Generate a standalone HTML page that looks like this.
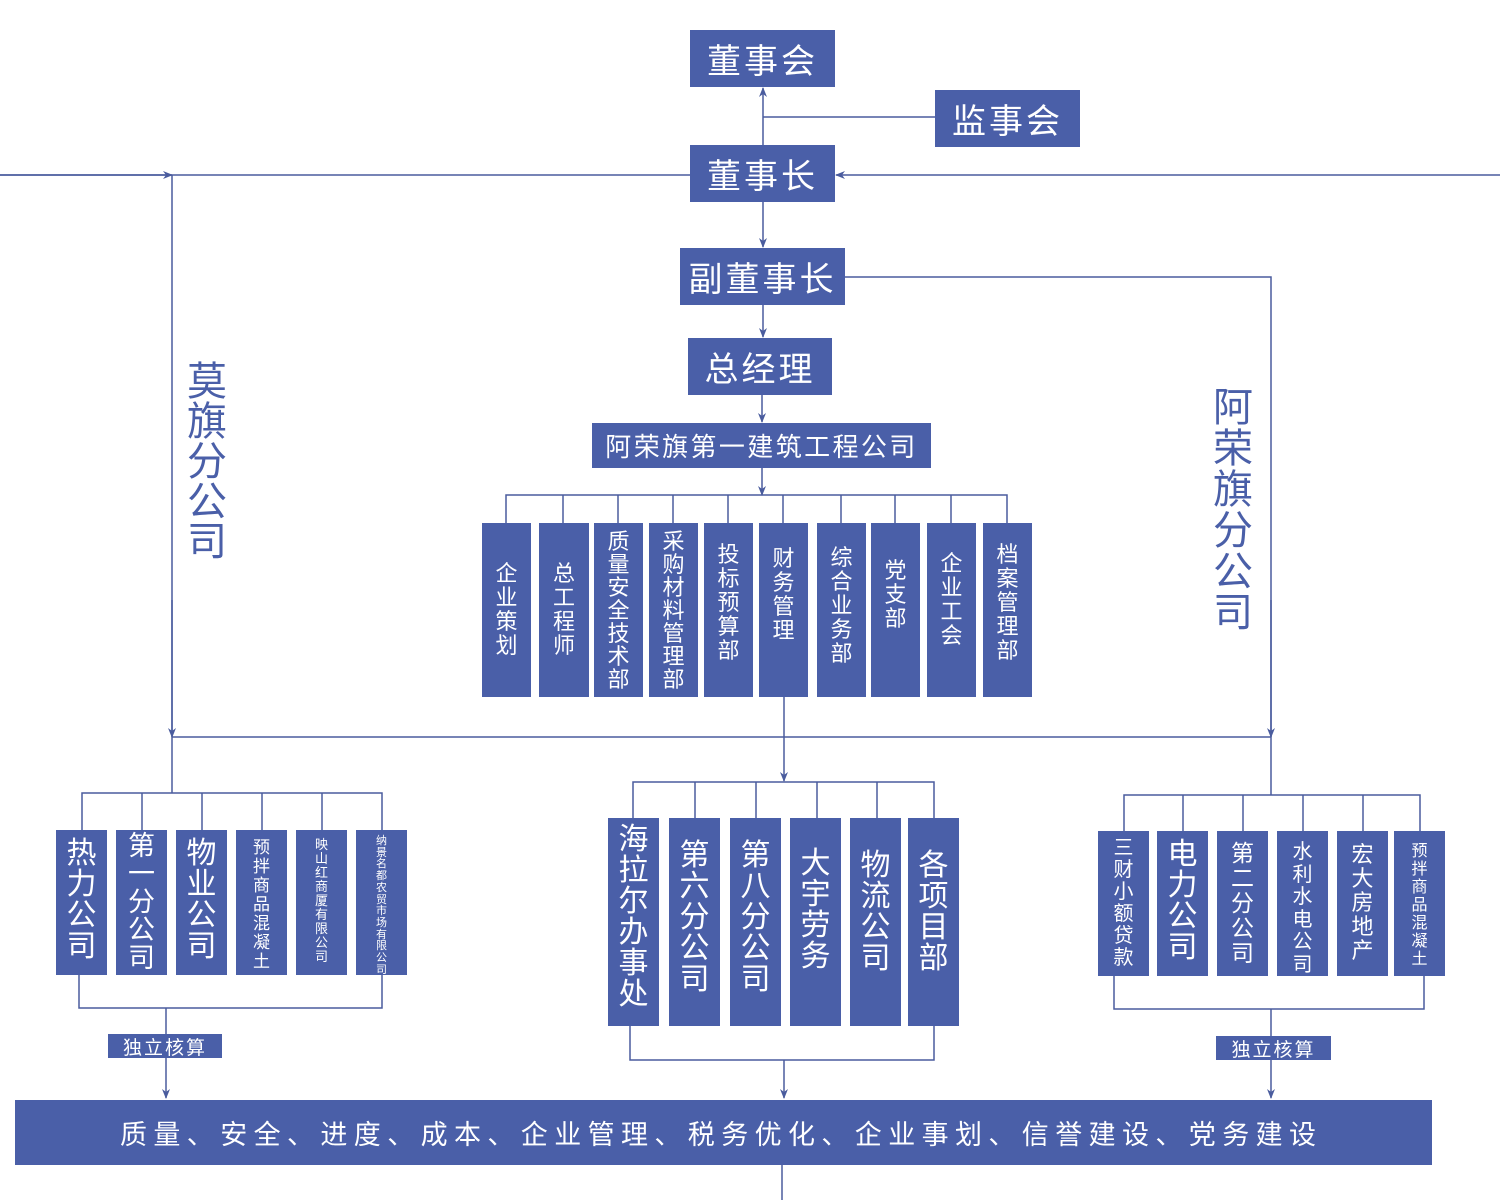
<!DOCTYPE html>
<html><head><meta charset="utf-8"><style>
body{margin:0;width:1500px;height:1200px;background:#fff;position:relative;overflow:hidden;font-family:"Liberation Sans","Noto Sans CJK SC",sans-serif}
.b{position:absolute;background:#4a5fa8;color:#fff;display:flex;align-items:center;justify-content:center;white-space:nowrap}
.v{position:absolute;background:#4a5fa8;color:#fff;display:flex;flex-direction:column;align-items:center;text-align:center}
.v span{display:block}
.t{position:absolute;color:#4a5fa8;display:flex;flex-direction:column;align-items:center}
svg{position:absolute;left:0;top:0}
</style></head><body>
<svg width="1500" height="1200" viewBox="0 0 1500 1200">
<defs><marker id="a" markerWidth="10" markerHeight="10" refX="9" refY="5" orient="auto" markerUnits="userSpaceOnUse"><path d="M0,1 L10,5 L0,9 L3,5 Z" fill="#4a5c9e"/></marker></defs>
<g stroke="#4a5c9e" stroke-width="1.5" fill="none">
<line x1="763" y1="145" x2="763" y2="88" marker-end="url(#a)"/>
<line x1="763" y1="117" x2="935" y2="117"/>
<line x1="0" y1="175" x2="690" y2="175"/>
<line x1="0" y1="175" x2="172" y2="175" marker-end="url(#a)"/>
<line x1="1500" y1="175" x2="836" y2="175" marker-end="url(#a)"/>
<line x1="763" y1="202" x2="763" y2="247" marker-end="url(#a)"/>
<line x1="763" y1="305" x2="763" y2="337" marker-end="url(#a)"/>
<line x1="762" y1="395" x2="762" y2="422" marker-end="url(#a)"/>
<line x1="762" y1="468" x2="762" y2="495" marker-end="url(#a)"/>
<polyline points="845,277 1271,277 1271,737"/>
<line x1="1271" y1="600" x2="1271" y2="737" marker-end="url(#a)"/>
<line x1="172" y1="175" x2="172" y2="737"/>
<line x1="172" y1="600" x2="172" y2="737" marker-end="url(#a)"/>
<polyline points="506,523 506,495 1007,495 1007,523"/>
<line x1="563" y1="495" x2="563" y2="523"/><line x1="618" y1="495" x2="618" y2="523"/>
<line x1="673" y1="495" x2="673" y2="523"/><line x1="728" y1="495" x2="728" y2="523"/>
<line x1="783" y1="495" x2="783" y2="523"/><line x1="841" y1="495" x2="841" y2="523"/>
<line x1="895" y1="495" x2="895" y2="523"/><line x1="951" y1="495" x2="951" y2="523"/>
<line x1="172" y1="737" x2="1271" y2="737"/>
<line x1="784" y1="697" x2="784" y2="781" marker-end="url(#a)"/>
<line x1="172" y1="737" x2="172" y2="793"/>
<polyline points="82,830 82,793 382,793 382,830"/>
<line x1="142" y1="793" x2="142" y2="830"/><line x1="202" y1="793" x2="202" y2="830"/>
<line x1="262" y1="793" x2="262" y2="830"/><line x1="322" y1="793" x2="322" y2="830"/>
<polyline points="79,975 79,1008 382,1008 382,975"/>
<line x1="166" y1="1008" x2="166" y2="1034"/>
<line x1="166" y1="1058" x2="166" y2="1098" marker-end="url(#a)"/>
<polyline points="633,818 633,782 934,782 934,818"/>
<line x1="695" y1="782" x2="695" y2="818"/><line x1="756" y1="782" x2="756" y2="818"/>
<line x1="817" y1="782" x2="817" y2="818"/><line x1="877" y1="782" x2="877" y2="818"/>
<polyline points="630,1026 630,1060 934,1060 934,1026"/>
<line x1="784" y1="1060" x2="784" y2="1098" marker-end="url(#a)"/>
<line x1="1271" y1="737" x2="1271" y2="795"/>
<polyline points="1124,831 1124,795 1420,795 1420,831"/>
<line x1="1183" y1="795" x2="1183" y2="831"/><line x1="1243" y1="795" x2="1243" y2="831"/>
<line x1="1303" y1="795" x2="1303" y2="831"/><line x1="1363" y1="795" x2="1363" y2="831"/>
<polyline points="1114,976 1114,1009 1424,1009 1424,976"/>
<line x1="1271" y1="1009" x2="1271" y2="1036"/>
<line x1="1271" y1="1060" x2="1271" y2="1098" marker-end="url(#a)"/>
<line x1="782" y1="1165" x2="782" y2="1200"/>
</g></svg>

<div class="b" style="left:690px;top:30px;width:145px;height:57px;font-size:34px;letter-spacing:3px">董事会</div>
<div class="b" style="left:935px;top:90px;width:145px;height:57px;font-size:34px;letter-spacing:3px">监事会</div>
<div class="b" style="left:690px;top:145px;width:145px;height:57px;font-size:34px;letter-spacing:3px">董事长</div>
<div class="b" style="left:680px;top:248px;width:165px;height:57px;font-size:34px;letter-spacing:3px">副董事长</div>
<div class="b" style="left:688px;top:338px;width:144px;height:57px;font-size:34px;letter-spacing:3px">总经理</div>
<div class="b" style="left:592px;top:423px;width:339px;height:45px;font-size:26px;letter-spacing:2.4px">阿荣旗第一建筑工程公司</div>

<div class="t" style="left:185px;top:362px;width:44px;font-size:40px;line-height:40px"><span>莫</span><span>旗</span><span>分</span><span>公</span><span>司</span></div>
<div class="t" style="left:1211px;top:388px;width:44px;font-size:40px;line-height:41px"><span>阿</span><span>荣</span><span>旗</span><span>分</span><span>公</span><span>司</span></div>

<!-- departments -->
<div class="v" style="left:482px;top:523px;width:49px;height:174px;font-size:22px;line-height:24px;justify-content:center"><span>企</span><span>业</span><span>策</span><span>划</span></div>
<div class="v" style="left:539px;top:523px;width:50px;height:174px;font-size:22px;line-height:24px;justify-content:center"><span>总</span><span>工</span><span>程</span><span>师</span></div>
<div class="v" style="left:594px;top:523px;width:49px;height:174px;font-size:22px;line-height:23px;justify-content:center"><span>质</span><span>量</span><span>安</span><span>全</span><span>技</span><span>术</span><span>部</span></div>
<div class="v" style="left:649px;top:523px;width:49px;height:174px;font-size:22px;line-height:23px;justify-content:center"><span>采</span><span>购</span><span>材</span><span>料</span><span>管</span><span>理</span><span>部</span></div>
<div class="v" style="left:704px;top:523px;width:49px;height:174px;font-size:22px;line-height:24px;justify-content:center;padding-bottom:14px;box-sizing:border-box"><span>投</span><span>标</span><span>预</span><span>算</span><span>部</span></div>
<div class="v" style="left:759px;top:523px;width:49px;height:174px;font-size:22px;line-height:24px;justify-content:center;padding-bottom:30px;box-sizing:border-box"><span>财</span><span>务</span><span>管</span><span>理</span></div>
<div class="v" style="left:817px;top:523px;width:49px;height:174px;font-size:22px;line-height:24px;justify-content:center;padding-bottom:8px;box-sizing:border-box"><span>综</span><span>合</span><span>业</span><span>务</span><span>部</span></div>
<div class="v" style="left:871px;top:523px;width:49px;height:174px;font-size:22px;line-height:24px;justify-content:center;padding-bottom:30px;box-sizing:border-box"><span>党</span><span>支</span><span>部</span></div>
<div class="v" style="left:927px;top:523px;width:49px;height:174px;font-size:22px;line-height:24px;justify-content:center;padding-bottom:20px;box-sizing:border-box"><span>企</span><span>业</span><span>工</span><span>会</span></div>
<div class="v" style="left:983px;top:523px;width:49px;height:174px;font-size:22px;line-height:24px;justify-content:center;padding-bottom:14px;box-sizing:border-box"><span>档</span><span>案</span><span>管</span><span>理</span><span>部</span></div>

<!-- left group -->
<div class="v" style="left:56px;top:830px;width:51px;height:145px;font-size:30px;line-height:31px;padding-top:8px;box-sizing:border-box"><span>热</span><span>力</span><span>公</span><span>司</span></div>
<div class="v" style="left:116px;top:830px;width:51px;height:145px;font-size:27px;line-height:28px;padding-top:2px;box-sizing:border-box"><span>第</span><span>一</span><span>分</span><span>公</span><span>司</span></div>
<div class="v" style="left:176px;top:830px;width:51px;height:145px;font-size:30px;line-height:31px;padding-top:8px;box-sizing:border-box"><span>物</span><span>业</span><span>公</span><span>司</span></div>
<div class="v" style="left:236px;top:830px;width:51px;height:145px;font-size:17px;line-height:19px;padding-top:8px;box-sizing:border-box"><span>预</span><span>拌</span><span>商</span><span>品</span><span>混</span><span>凝</span><span>土</span></div>
<div class="v" style="left:296px;top:830px;width:51px;height:145px;font-size:13px;line-height:14px;padding-top:8px;box-sizing:border-box"><span>映</span><span>山</span><span>红</span><span>商</span><span>厦</span><span>有</span><span>限</span><span>公</span><span>司</span></div>
<div class="v" style="left:356px;top:830px;width:51px;height:145px;font-size:11px;line-height:11.7px;padding-top:6px;box-sizing:border-box"><span>纳</span><span>景</span><span>名</span><span>都</span><span>农</span><span>贸</span><span>市</span><span>场</span><span>有</span><span>限</span><span>公</span><span>司</span></div>
<div class="b" style="left:108px;top:1034px;width:114px;height:24px;font-size:19px;letter-spacing:2px">独立核算</div>

<!-- middle group -->
<div class="v" style="left:608px;top:818px;width:51px;height:208px;font-size:30px;line-height:31px;padding-top:6px;box-sizing:border-box"><span>海</span><span>拉</span><span>尔</span><span>办</span><span>事</span><span>处</span></div>
<div class="v" style="left:669px;top:818px;width:51px;height:208px;font-size:30px;line-height:31px;padding-top:22px;box-sizing:border-box"><span>第</span><span>六</span><span>分</span><span>公</span><span>司</span></div>
<div class="v" style="left:730px;top:818px;width:51px;height:208px;font-size:30px;line-height:31px;padding-top:22px;box-sizing:border-box"><span>第</span><span>八</span><span>分</span><span>公</span><span>司</span></div>
<div class="v" style="left:790px;top:818px;width:51px;height:208px;font-size:30px;line-height:31px;padding-top:30px;box-sizing:border-box"><span>大</span><span>宇</span><span>劳</span><span>务</span></div>
<div class="v" style="left:850px;top:818px;width:51px;height:208px;font-size:30px;line-height:31px;padding-top:32px;box-sizing:border-box"><span>物</span><span>流</span><span>公</span><span>司</span></div>
<div class="v" style="left:908px;top:818px;width:51px;height:208px;font-size:30px;line-height:31px;padding-top:32px;box-sizing:border-box"><span>各</span><span>项</span><span>目</span><span>部</span></div>

<!-- right group -->
<div class="v" style="left:1098px;top:831px;width:51px;height:145px;font-size:20px;line-height:22px;padding-top:6px;box-sizing:border-box"><span>三</span><span>财</span><span>小</span><span>额</span><span>贷</span><span>款</span></div>
<div class="v" style="left:1157px;top:831px;width:51px;height:145px;font-size:30px;line-height:31px;padding-top:8px;box-sizing:border-box"><span>电</span><span>力</span><span>公</span><span>司</span></div>
<div class="v" style="left:1217px;top:831px;width:51px;height:145px;font-size:23px;line-height:25px;padding-top:10px;box-sizing:border-box"><span>第</span><span>二</span><span>分</span><span>公</span><span>司</span></div>
<div class="v" style="left:1277px;top:831px;width:51px;height:145px;font-size:20px;line-height:22.5px;padding-top:10px;box-sizing:border-box"><span>水</span><span>利</span><span>水</span><span>电</span><span>公</span><span>司</span></div>
<div class="v" style="left:1337px;top:831px;width:51px;height:145px;font-size:22px;line-height:24px;padding-top:12px;box-sizing:border-box"><span>宏</span><span>大</span><span>房</span><span>地</span><span>产</span></div>
<div class="v" style="left:1394px;top:831px;width:51px;height:145px;font-size:16px;line-height:18px;padding-top:12px;box-sizing:border-box"><span>预</span><span>拌</span><span>商</span><span>品</span><span>混</span><span>凝</span><span>土</span></div>
<div class="b" style="left:1216px;top:1036px;width:115px;height:24px;font-size:19px;letter-spacing:2px">独立核算</div>

<div class="b" style="left:15px;top:1100px;width:1417px;height:65px;font-size:27px;letter-spacing:6.4px;justify-content:flex-start;padding-left:105px;box-sizing:border-box">质量、安全、进度、成本、企业管理、税务优化、企业事划、信誉建设、党务建设</div>
</body></html>
